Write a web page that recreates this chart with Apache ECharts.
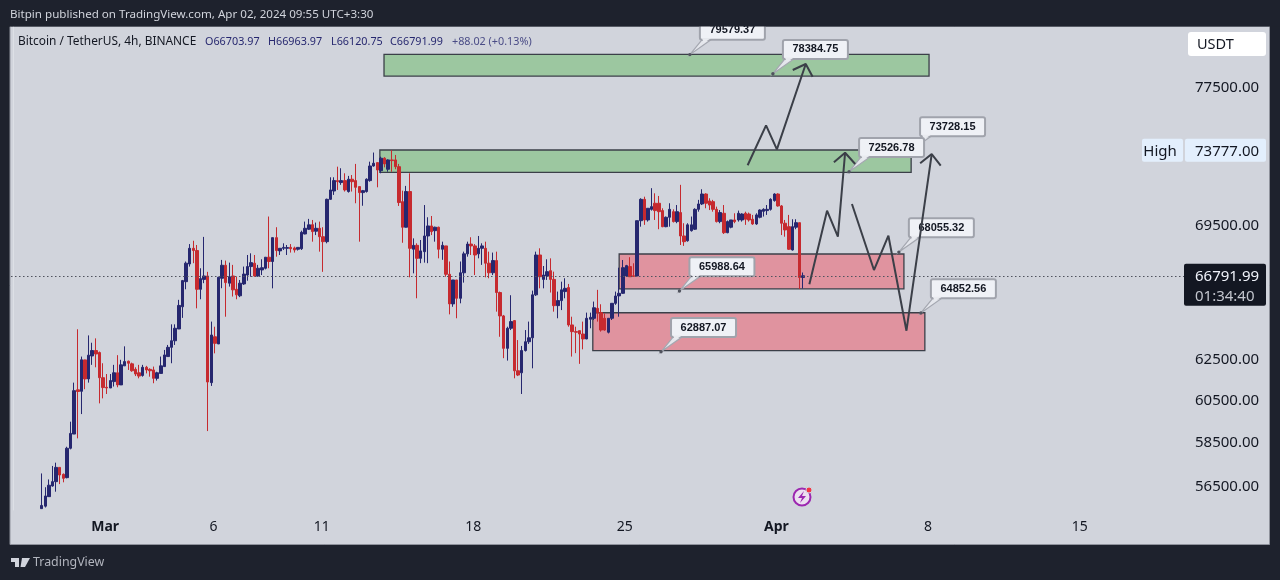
<!DOCTYPE html>
<html><head><meta charset="utf-8">
<style>html,body{margin:0;padding:0;background:#1e222d}#c{width:1280px;height:580px}</style>
<script src="https://cdn.jsdelivr.net/npm/echarts@6/dist/echarts.min.js"></script>
</head><body><div id="c"></div>
<script>
// ---- data ----
const opens=[55540,55650,56070,56545,56740,57385,57070,56920,58260,58920,61020,60950,62485,61550,62680,62950,62850,61610,61145,61110,61420,61850,61260,62190,62420,62290,62020,61850,61720,62120,62020,61990,61580,61820,62155,62650,63110,63440,64035,65170,66480,67420,68260,68140,66080,66600,66780,61370,63640,63280,66660,67350,66400,66780,66080,65740,66360,66830,67280,67460,66780,67100,67190,67780,67550,68840,68120,68260,68260,68310,68280,68210,68240,69040,69300,69550,69190,69350,68890,68620,70960,71430,72020,71910,72020,71400,72100,72020,71680,71340,71400,72020,72860,73055,72590,73310,72670,73210,73210,72820,70830,69410,71400,68210,68420,67720,68080,68930,69480,69220,69410,68210,68390,66870,65320,66570,65610,66950,67960,68490,68390,67960,68260,68260,67460,66950,67600,65910,64700,63060,64070,64460,61950,61850,62950,63390,63590,65790,67900,66600,66780,67060,66600,65230,65490,65960,66170,64240,63900,63950,63780,63530,64530,64580,65090,64870,64580,63870,64580,65350,65735,65870,66780,67280,66790,66780,69770,70960,69810,70400,70740,70740,70330,69440,69960,70270,69720,70220,68930,68670,69220,69300,70400,70700,71260,70870,70830,70400,69720,70180,69110,69410,69810,69810,69810,70180,70140,69850,69590,69960,70290,70330,70400,70890,71260,70590,69630,69440,68170,69410,69660,66703.97];
const closes=[55680,56100,56580,56740,57385,57040,56890,58260,58950,60980,60940,62490,61550,62720,62950,62780,61610,61130,61110,61470,61850,61260,62240,62400,62320,61950,61790,61690,62120,61990,61950,61580,61850,62190,62730,63110,63440,64070,65240,66535,67460,68260,68140,66080,66640,66780,61400,63730,63310,66710,67350,66430,66740,66050,65790,66400,66880,67280,67490,66780,67190,67220,67780,67550,68840,68140,68260,68310,68300,68240,68170,68310,69130,69350,69540,69170,69350,68890,68620,70960,71490,72020,71960,72020,71490,72100,71960,71640,71340,71450,72100,72860,73020,72630,73310,72980,73210,73170,72820,70780,69410,71400,68260,68420,67720,68120,68930,69480,69170,69410,68210,68420,66870,65320,66570,65610,66950,67960,68490,68390,67900,68260,68390,67460,66950,67600,65910,64700,63060,64070,64410,61950,61740,62950,63390,63590,65790,67900,66740,66830,67010,66600,65230,65490,66050,66130,64240,63900,63870,63780,63530,64580,64630,65120,64870,63980,63980,64580,65350,65730,65870,67220,67330,66740,66760,69770,70960,69810,70460,70550,70330,70270,69440,69960,70400,69720,70270,68930,68620,69540,69540,70400,70700,71260,70740,70640,70400,69720,70220,69110,69720,69810,69720,70180,70140,69850,69810,69590,70090,70360,70400,70400,70960,71260,70590,69630,69260,68210,69440,69660,66700,66791.99];
const lows=[55540,55590,56070,56515,56290,56630,56710,56890,58210,58920,58720,59860,61050,61370,62240,62120,60370,60610,60820,61110,61180,61145,61255,62185,61990,61900,61690,61580,61660,61820,61660,61340,61470,61820,62150,62650,62320,63230,64030,64600,66080,67280,67460,65090,65560,66400,59060,61210,62810,63275,66135,64660,66220,65700,65560,65670,66310,66530,66740,66740,66740,66830,67130,67190,66130,67810,67900,68170,67900,68030,68030,68140,68170,69020,69260,68620,68980,68080,67000,68530,70930,71210,71490,71780,71400,71340,71400,70740,68620,70600,71340,71960,72820,71640,72440,72780,72530,72530,72670,70590,68560,69400,66710,66920,65610,67460,67490,67460,68980,68620,67720,67640,66740,64780,65170,64580,65350,66430,67810,67900,66830,67720,67370,66710,66660,66830,64920,63640,62570,62450,63980,61580,61690,60820,62900,63280,62070,65730,66130,66130,66570,65910,64920,64580,65000,65610,64150,62650,62820,62290,63010,63520,64070,64490,64410,63900,63950,63810,64490,65270,64660,65840,66740,66740,66740,66770,69440,69540,69720,70330,69810,69300,69410,69410,69440,69670,69630,68440,68390,68620,69170,69260,70270,70640,70460,70360,70270,69670,69630,69040,69080,69350,69630,69720,69720,69540,69720,69540,69540,69900,70000,70090,70330,70830,70550,68980,68890,68170,68140,69300,66100,66120.75];
const highs=[57110,56490,56840,57450,57600,57385,57110,58330,59500,61370,64020,62650,62490,63710,63340,63560,62900,62320,61790,61790,62240,62720,62490,63160,62450,62350,62120,62240,62240,62190,62070,62155,61900,62650,62980,63230,64270,64270,65530,66570,67550,68490,68670,68440,67190,68880,67000,64410,64150,66745,67635,67600,67490,67370,66740,66570,67280,67900,67990,67900,67370,67670,67780,70000,68840,69410,68260,68530,68440,68490,68350,68320,69220,69720,69870,69810,69665,69720,69410,71000,72210,72210,72820,72730,72440,72290,72340,72980,71680,71490,72150,73110,73640,73055,73400,73370,73250,73777,73500,72980,71450,71720,72440,68800,68530,68710,70640,69960,70030,69440,69440,68620,68390,67550,66570,66570,67550,68080,68620,68860,68490,68930,68530,68620,68080,68030,68080,65960,64750,64150,65770,64490,63475,63180,63980,64410,66010,68080,68260,67310,67670,67720,67010,65960,66480,66660,66360,64660,64150,63950,64410,64870,64870,65440,66050,65300,64830,64580,65350,65960,67220,67630,67370,67780,67456,69770,71020,71110,70460,71590,71300,71150,70460,70000,70740,70400,70640,71780,69630,69630,70000,70460,70930,71530,71300,71020,70930,70550,70360,70640,69780,69810,70180,70330,70180,70270,70220,70090,70180,70400,70460,70640,71020,71300,71300,70640,69810,70090,69850,69850,69660,66963.97];

const yTickValues=[56500,58500,60500,62500,69500,77500];
const xTickLabels=['Mar','6','11','18','25','Apr','8','15'];
const xTickSlots=[26,56,86,128,170,212,254,296];
const barLeadSlots=8, slotCount=325;
const priceMin=55480, priceMax=81340;

// drawing tools: bar slot and price
const greenZones=[[102.85,253.86,79600,78240],[101.7,248.9,73787,72496]];
const redZones=[[168,246.9,67952,66106],[160.7,252.7,64862,62942]];
const calloutValues=[79579.37,78384.75,73728.15,72526.78,68055.32,64852.56,65988.64,62887.07];
const calloutSlots=[187.6,210.6,248.6,231.7,245.5,251.6,184.7,179.6];
const arrowLines=[
 [[203.6,72900],[208.7,75245],[211.7,73828],[219.7,78990]],
 [[216.1,78615],[219.7,78990],[221.6,78199]],
 [[220.7,66340],[225.6,70324],[228.6,68890],[230.6,73629]],
 [[227.5,73072],[230.6,73629],[233.4,72973]],
 [[232.5,70699],[238.6,67096],[242.6,68945],[247.6,63946],[254.6,73554]],
 [[251.4,73013],[254.6,73554],[257.1,72875]]
];
const lastPrice=66791.99, lastCountdown='01:34:40';
const highPrice=73777;

// ---- chart ----
const UI='"Noto Sans",sans-serif';
const navy='#26276f', red='#c62a2f', ink='#131722', lineInk='#3b3f48';
const candles=opens.map((o,i)=>[i+barLeadSlots,o,closes[i],lows[i],highs[i]]);
const cats=Array.from({length:slotCount},(_,k)=>{const j=xTickSlots.indexOf(k);return j<0?'':xTickLabels[j];});

function zoneSeries(zones,fill){
 return {type:'custom',xAxisIndex:1,yAxisIndex:0,z:1,clip:true,silent:true,
  data:zones,encode:{x:[0,1],y:[2,3]},
  renderItem(p,api){
   const a=api.coord([api.value(0),api.value(2)]),b=api.coord([api.value(1),api.value(3)]);
   return {type:'rect',shape:{x:a[0],y:a[1],width:b[0]-a[0],height:b[1]-a[1]},
     style:{fill,stroke:lineInk,lineWidth:1.3}};
  }};
}
const calloutData=calloutValues.map((v,i)=>[calloutSlots[i],v]);
const calloutSeries={type:'custom',xAxisIndex:1,yAxisIndex:0,z:4,clip:false,silent:true,
 data:calloutData,encode:{x:0,y:1},
 renderItem(p,api){
  const a=api.coord([api.value(0),api.value(1)]);
  const cx=a[0]+42.5, cy=a[1]-24.3, w=65, h=19;
  const l=cx-w/2, b=cy+h/2;
  return {type:'group',children:[
   {type:'polygon',shape:{points:[[a[0],a[1]],[l+2,b],[l+11,b]]},style:{fill:'#e4e6ec',stroke:'#a4a7b0',lineWidth:1.2}},
   {type:'rect',shape:{x:l,y:cy-h/2,width:w,height:h,r:2},style:{fill:'#eff1f6',stroke:'#a0a3ac',lineWidth:2}},
   {type:'polygon',shape:{points:[[l+2,b-1.5],[l+11,b-1.5],[l+4,b+3]]},style:{fill:'#e9ebf0'}},
   {type:'circle',shape:{cx:a[0],cy:a[1],r:1.7},style:{fill:'#50535e'}},
   {type:'text',style:{x:cx,y:cy,text:calloutValues[p.dataIndex].toFixed(2),align:'center',verticalAlign:'middle',
      font:'bold 11px "Liberation Sans",sans-serif',fill:ink}}
  ]};
 }};
const arrowSeries=arrowLines.map(pts=>({type:'line',xAxisIndex:1,yAxisIndex:0,z:5,silent:true,
  data:pts,showSymbol:false,symbol:'none',animation:false,lineStyle:{color:lineInk,width:2}}));
const tagSeries={type:'custom',xAxisIndex:1,yAxisIndex:0,z:6,clip:false,silent:true,
 data:[[0,highPrice],[0,lastPrice]],encode:{y:1},
 renderItem(p,api){
  const y=api.coord([0,api.value(1)])[1];
  const font='15px '+UI;
  if(p.dataIndex===0) return {type:'group',children:[
    {type:'rect',shape:{x:1142,y:y-11.5,width:41,height:23,r:2},style:{fill:'#e3effd'}},
    {type:'rect',shape:{x:1185,y:y-11.5,width:81,height:23,r:2},style:{fill:'#e3effd'}},
    {type:'text',style:{x:1160,y:y+1.5,text:'High',align:'center',verticalAlign:'middle',font,fill:ink}},
    {type:'text',style:{x:1195,y:y+1.5,text:highPrice.toFixed(2),align:'left',verticalAlign:'middle',font,fill:ink}}
  ]};
  return {type:'group',children:[
    {type:'rect',shape:{x:1184,y:y-12,width:82,height:42,r:2},style:{fill:'#131722'}},
    {type:'text',style:{x:1195,y:y+.5,text:lastPrice.toFixed(2),align:'left',verticalAlign:'middle',font,fill:'#f0f3fa'}},
    {type:'text',style:{x:1195,y:y+21,text:lastCountdown,align:'left',verticalAlign:'middle',font,fill:'#c3c6ce'}}
  ]};
 }};

const T=(x,y,text,font,fill)=>({type:'text',z:101,silent:true,x,y,style:{text,font,fill,verticalAlign:'middle'}});
const chart=echarts.init(document.getElementById('c'),null,{renderer:'canvas'});
chart.setOption({
 animation:false,backgroundColor:'#1e222d',
 grid:{left:11,top:27,width:1173,height:483,containLabel:false},
 xAxis:[
  {type:'category',data:cats,boundaryGap:true,axisLine:{show:false},axisTick:{show:false},splitLine:{show:false},
   axisLabel:{show:true,interval:0,margin:10,hideOverlap:false,padding:[0,3,0,0],color:ink,fontFamily:UI,fontSize:14,
     formatter:v=>(v==='Mar'||v==='Apr')?'{b|'+v+'}':v,
     rich:{b:{fontWeight:'bold',fontSize:14,fontFamily:UI,color:ink}}}},
  {type:'value',show:false,min:-0.5,max:slotCount-0.5,splitLine:{show:false}}
 ],
 yAxis:[{type:'log',logBase:10,min:priceMin,max:priceMax,position:'right',scale:true,
   axisLine:{show:true,lineStyle:{color:'#dde0e6',width:1}},axisTick:{show:false},splitLine:{show:false},minorTick:{show:false},
   axisLabel:{show:true,margin:11,padding:[3,0,0,0],color:ink,fontFamily:UI,fontSize:15,customValues:yTickValues,formatter:v=>Number(v).toFixed(2)}}],
 series:[
  zoneSeries(greenZones,'rgba(103,186,100,.5)'),
  zoneSeries(redZones,'rgba(239,82,98,.5)'),
  {type:'candlestick',xAxisIndex:0,yAxisIndex:0,z:2,barWidth:3,silent:true,data:candles,
   encode:{x:0,y:[1,2,3,4]},
   itemStyle:{color:navy,color0:red,borderColor:navy,borderColor0:red,borderWidth:1},
   markLine:{silent:true,symbol:'none',animation:false,label:{show:false},
     lineStyle:{color:'#50535e',type:[1.5,2.5],width:1},data:[{yAxis:lastPrice}]}},
  calloutSeries,...arrowSeries,tagSeries
 ],
 graphic:[
  {type:'rect',z:-1,silent:true,shape:{x:10,y:26.5,width:1259.5,height:518},style:{fill:'#d1d4dc',stroke:'#8f929c',lineWidth:1}},
  {type:'rect',z:100,silent:true,shape:{x:0,y:0,width:1280,height:26.5},style:{fill:'#1e222d'}},
  T(10,14.5,'Bitpin published on TradingView.com, Apr 02, 2024 09:55 UTC+3:30','11.6px '+UI,'#d1d4dc'),
  T(18,42,'Bitcoin / TetherUS, 4h, BINANCE','11.9px '+UI,ink),
  T(205,42,'O66703.97','10.8px '+UI,navy),
  T(268,42,'H66963.97','10.8px '+UI,navy),
  T(331,42,'L66120.75','10.8px '+UI,navy),
  T(390,42,'C66791.99','10.8px '+UI,navy),
  T(452,42,'+88.02 (+0.13%)','10.8px '+UI,'#4a4c86'),
  {type:'rect',z:100,silent:true,shape:{x:1188,y:32,width:78,height:24,r:3},style:{fill:'#fff'}},
  T(1197,44.5,'USDT','14.5px '+UI,ink),
  {type:'circle',z:100,silent:true,shape:{cx:802,cy:497,r:8.5},style:{fill:'#ecdff0',stroke:'#9c27b0',lineWidth:2}},
  {type:'polygon',z:101,silent:true,shape:{points:[[804,491],[798,498],[802,498],[800,503],[806,496],[802,496]]},style:{fill:'#9c27b0'}},
  {type:'circle',z:101,silent:true,shape:{cx:809,cy:490,r:3},style:{fill:'#f23645',stroke:'#d1d4dc',lineWidth:1}},
  {type:'polygon',z:101,silent:true,shape:{points:[[11,558],[19,558],[19,567],[15,567],[15,562],[11,562]]},style:{fill:'#d1d4dc'}},
  {type:'polygon',z:101,silent:true,shape:{points:[[22,558],[30,558],[25,567],[20.5,567]]},style:{fill:'#d1d4dc'}},
  T(33,562.5,'TradingView','12.4px '+UI,'#b2b5be')
 ]
});
</script></body></html>
